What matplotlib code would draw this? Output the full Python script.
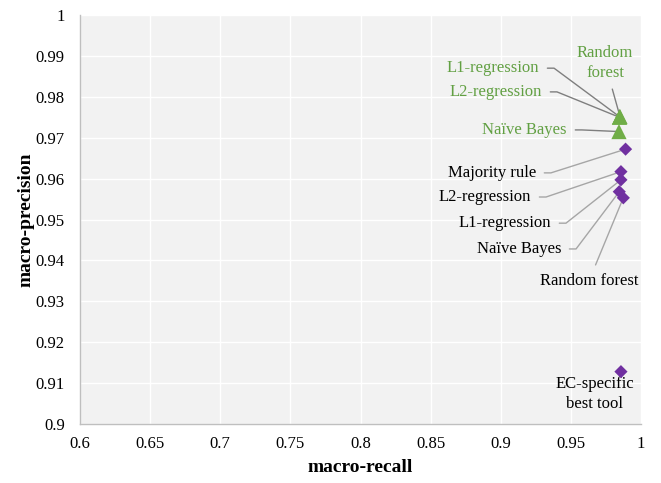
import math
import matplotlib
matplotlib.use("Agg")
import matplotlib.pyplot as plt

plt.rcParams['font.family'] = ['Liberation Serif', 'DejaVu Serif']

# Green (triangle) series
green_labels = ["Random\nforest", "L1-regression", "L2-regression", "Naïve Bayes"]
green_recall = [0.9850, 0.9848, 0.9846, 0.9843]
green_precision = [0.9752, 0.9751, 0.9750, 0.9715]

# Purple (diamond) series
purple_labels = ["Majority rule", "L2-regression", "L1-regression", "Naïve Bayes",
                 "Random forest", "EC-specific\nbest tool"]
purple_recall = [0.9890, 0.9857, 0.9857, 0.9845, 0.9874, 0.9857]
purple_precision = [0.9672, 0.9617, 0.9597, 0.9568, 0.9553, 0.9128]

x_ticks = [0.6, 0.65, 0.7, 0.75, 0.8, 0.85, 0.9, 0.95, 1.0]
x_ticklabels = ["0.6", "0.65", "0.7", "0.75", "0.8", "0.85", "0.9", "0.95", "1"]
y_ticks = [0.9, 0.91, 0.92, 0.93, 0.94, 0.95, 0.96, 0.97, 0.98, 0.99, 1.0]
y_ticklabels = ["0.9", "0.91", "0.92", "0.93", "0.94", "0.95", "0.96", "0.97", "0.98", "0.99", "1"]

GREEN = "#70ad47"
GREEN_TXT = "#62a043"
PURPLE = "#7030a0"

fig = plt.figure(figsize=(6.61, 4.83), dpi=100)
ax = fig.add_axes([80/661, 59/483, 561/661, 409/483])
ax.set_facecolor("#f2f2f2")
ax.set_xlim(0.6, 1.0)
ax.set_ylim(0.9, 1.0)
ax.set_xticks(x_ticks)
ax.set_xticklabels(x_ticklabels)
ax.set_yticks(y_ticks)
ax.set_yticklabels(y_ticklabels)
ax.grid(True, color="white", linewidth=1.0)
ax.set_axisbelow(True)
for s in ["top", "right"]:
    ax.spines[s].set_visible(False)
for s in ["left", "bottom"]:
    ax.spines[s].set_color("#bfbfbf")
    ax.spines[s].set_linewidth(1.0)
ax.tick_params(length=0, labelsize=12, colors="black")
ax.tick_params(axis="x", pad=9)
ax.tick_params(axis="y", pad=11)

ax.scatter(green_recall, green_precision, marker="^", s=120, color=GREEN,
           edgecolors="none", zorder=5)
ax.scatter(purple_recall, purple_precision, marker="D", s=45, color=PURPLE,
           edgecolors="none", zorder=5)

STUB = 15  # px horizontal stub past the text end


def label(text, xy, pos, ha, tcolor, lcolor):
    props = None
    if lcolor is not None:
        if ha == "right":
            tx, ty = ax.transData.transform(pos)
            cx, cy = tx + STUB, ty
            px, py = ax.transData.transform(xy)
            angB = math.degrees(math.atan2(py - cy, px - cx))
            conn = f"angle,angleA=0,angleB={angB:.3f},rad=0"
        else:
            conn = "arc3,rad=0"
        props = dict(arrowstyle="-", color=lcolor, lw=1.0, shrinkA=4, shrinkB=0,
                     connectionstyle=conn)
    ax.annotate(text, xy=xy, xytext=pos, ha=ha, va="center", fontsize=12,
                color=tcolor, linespacing=1.35, arrowprops=props, zorder=4)


green_text_pos = [((0.9743, 0.9883), "center"), ((0.9273, 0.9870), "right"),
                  ((0.9294, 0.9812), "right"), ((0.9472, 0.9719), "right")]
for lab, xr, yp, (pos, ha) in zip(green_labels, green_recall, green_precision, green_text_pos):
    label(lab, (xr, yp), pos, ha, GREEN_TXT, "#7f7f7f")

purple_text_pos = [((0.9251, 0.9614), "right"), ((0.9216, 0.9555), "right"),
                   ((0.9358, 0.9491), "right"), ((0.9430, 0.9428), "right"),
                   ((0.9629, 0.9350), "center"), ((0.9672, 0.9073), "center")]
for lab, xr, yp, (pos, ha) in zip(purple_labels, purple_recall, purple_precision, purple_text_pos):
    lc = None if "EC-specific" in lab else "#a6a6a6"
    label(lab, (xr, yp), pos, ha, "black", lc)

ax.set_xlabel("macro-recall", fontsize=14, fontweight="bold", labelpad=5)
ax.set_ylabel("macro-precision", fontsize=14, fontweight="bold", labelpad=1)

fig.savefig("out.png", dpi=100)
